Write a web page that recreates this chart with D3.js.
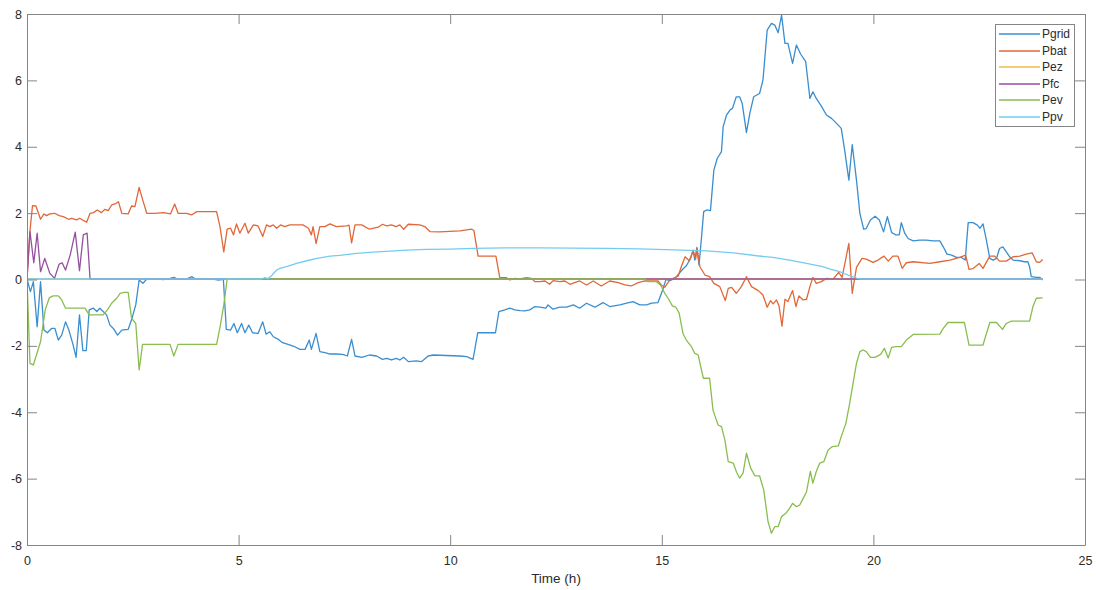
<!DOCTYPE html>
<html>
<head>
<meta charset="utf-8">
<script src="https://cdn.jsdelivr.net/npm/d3@7"></script>
<style>
  html, body { margin: 0; padding: 0; background: #fff; }
  svg { display: block; font-family: Arial, "Liberation Sans", Helvetica, sans-serif; }
</style>
</head>
<body>
<svg id="chart" width="1096" height="590"></svg>
<script>
// Power flows over one day, [hour, kW]
const pgrid = [[0,0],[0.08,-0.38],[0.15,-0.08],[0.24,-1.44],[0.32,-0.08],[0.4,-1.54],[0.48,-1.62],[0.58,-1.49],[0.66,-1.49],[0.74,-1.84],[0.82,-1.69],[0.91,-1.29],[0.99,-1.54],[1.08,-1.94],[1.16,-2.36],[1.24,-1.08],[1.32,-2.16],[1.4,-2.16],[1.47,-0.93],[1.57,-0.88],[1.65,-0.98],[1.72,-0.88],[1.8,-0.98],[1.88,-1.08],[1.96,-1.39],[2.04,-1.49],[2.14,-1.69],[2.24,-1.54],[2.39,-1.52],[2.47,-1.23],[2.57,-0.78],[2.65,-0.03],[2.74,-0.13],[2.83,0],[3.0,0.01],[3.22,-0.02],[3.38,0.02],[3.47,0.05],[3.57,-0.01],[3.75,-0.01],[3.9,0.07],[3.98,0],[4.4,0],[4.52,-0.03],[4.64,-0.01],[4.71,-1.52],[4.81,-1.54],[4.89,-1.34],[4.97,-1.62],[5.07,-1.34],[5.15,-1.62],[5.24,-1.39],[5.33,-1.62],[5.46,-1.64],[5.57,-1.29],[5.65,-1.66],[5.74,-1.59],[5.82,-1.74],[5.94,-1.82],[6.04,-1.92],[6.15,-1.96],[6.29,-2.02],[6.45,-2.12],[6.57,-2.12],[6.67,-1.84],[6.72,-2.12],[6.83,-1.64],[6.92,-2.19],[7.04,-2.22],[7.16,-2.26],[7.31,-2.26],[7.46,-2.27],[7.57,-2.32],[7.67,-1.82],[7.75,-2.32],[7.91,-2.36],[8.09,-2.29],[8.26,-2.32],[8.4,-2.42],[8.5,-2.39],[8.61,-2.44],[8.73,-2.39],[8.81,-2.44],[8.9,-2.36],[9.01,-2.49],[9.2,-2.47],[9.32,-2.49],[9.48,-2.32],[9.6,-2.29],[10.23,-2.32],[10.39,-2.34],[10.54,-2.42],[10.65,-1.62],[11.07,-1.62],[11.15,-0.98],[11.29,-0.93],[11.41,-0.88],[11.53,-0.93],[11.65,-0.95],[11.76,-0.96],[11.88,-0.93],[12.0,-0.83],[12.12,-0.85],[12.26,-0.88],[12.31,-0.78],[12.43,-0.91],[12.59,-0.85],[12.75,-0.85],[12.91,-0.78],[13.06,-0.88],[13.22,-0.73],[13.42,-0.85],[13.61,-0.71],[13.77,-0.83],[14.01,-0.78],[14.17,-0.73],[14.32,-0.68],[14.48,-0.78],[14.64,-0.78],[14.76,-0.73],[14.91,-0.71],[15.02,-0.33],[15.1,-0.01],[15.19,-0.05],[15.31,0.02],[15.41,0.17],[15.5,0.3],[15.58,0.4],[15.68,0.62],[15.74,0.87],[15.78,0.57],[15.83,0.95],[15.88,0.42],[15.94,1.28],[15.99,2.03],[16.06,2.08],[16.15,2.06],[16.23,3.28],[16.31,3.63],[16.41,3.84],[16.45,4.59],[16.53,4.94],[16.61,5.09],[16.67,5.14],[16.76,5.49],[16.84,5.49],[16.9,5.29],[17.0,4.41],[17.08,4.99],[17.17,5.49],[17.31,5.59],[17.39,5.99],[17.49,7.5],[17.59,7.7],[17.67,7.65],[17.75,7.42],[17.83,7.95],[17.91,7.1],[17.98,7.1],[18.09,6.5],[18.18,7.05],[18.28,6.78],[18.4,6.55],[18.5,5.44],[18.57,5.64],[18.65,5.44],[18.77,5.21],[18.89,4.94],[19.01,4.84],[19.13,4.69],[19.24,4.54],[19.32,3.89],[19.42,2.98],[19.5,4.05],[19.6,2.98],[19.68,1.98],[19.77,1.5],[19.83,1.52],[19.93,1.78],[20.04,1.89],[20.14,1.78],[20.24,1.42],[20.33,1.88],[20.43,1.4],[20.53,1.33],[20.61,1.33],[20.66,1.7],[20.74,1.38],[20.82,1.22],[20.94,1.15],[21.09,1.17],[21.25,1.17],[21.41,1.15],[21.57,1.15],[21.65,0.97],[21.74,0.75],[21.85,0.72],[21.96,0.65],[22.08,0.65],[22.17,0.57],[22.24,1.7],[22.35,1.7],[22.45,1.63],[22.52,1.53],[22.59,1.66],[22.67,1.17],[22.75,0.62],[22.83,0.57],[22.91,0.62],[22.98,0.92],[23.06,0.97],[23.14,0.82],[23.22,0.67],[23.3,0.57],[23.46,0.55],[23.57,0.52],[23.65,0.52],[23.69,0.37],[23.73,0.07],[23.85,0.05],[23.93,0.05],[24.0,-0.03]];

const pbat = [[0,0],[0.07,1.45],[0.13,2.21],[0.21,2.2],[0.32,1.8],[0.4,1.96],[0.46,1.91],[0.54,1.96],[0.65,1.98],[0.76,1.91],[0.86,1.88],[0.98,1.8],[1.06,1.83],[1.17,1.78],[1.25,1.83],[1.31,1.78],[1.41,1.71],[1.49,1.98],[1.57,2.0],[1.66,2.08],[1.76,2.0],[1.84,2.1],[1.92,2.06],[2.0,2.23],[2.08,2.26],[2.16,2.33],[2.24,1.98],[2.39,1.96],[2.47,2.2],[2.55,2.18],[2.65,2.76],[2.73,2.4],[2.83,1.98],[3.02,1.98],[3.22,2.0],[3.39,1.96],[3.49,2.26],[3.57,1.98],[3.77,1.98],[3.89,1.93],[4.01,2.03],[4.48,2.03],[4.56,1.58],[4.65,0.82],[4.73,1.5],[4.81,1.53],[4.88,1.33],[4.95,1.66],[5.03,1.38],[5.15,1.68],[5.23,1.38],[5.35,1.63],[5.46,1.6],[5.57,1.28],[5.66,1.63],[5.74,1.58],[5.82,1.63],[5.9,1.53],[5.99,1.63],[6.09,1.58],[6.21,1.63],[6.52,1.63],[6.65,1.53],[6.72,1.33],[6.76,1.58],[6.83,1.07],[6.92,1.58],[7.04,1.58],[7.16,1.66],[7.31,1.58],[7.55,1.6],[7.61,1.62],[7.67,1.09],[7.75,1.63],[7.91,1.63],[8.09,1.5],[8.3,1.56],[8.4,1.65],[8.5,1.6],[8.61,1.63],[8.72,1.58],[8.81,1.63],[8.9,1.5],[9.01,1.65],[9.28,1.63],[9.4,1.58],[9.52,1.43],[9.75,1.42],[10.23,1.45],[10.39,1.48],[10.51,1.5],[10.56,1.46],[10.66,0.69],[11.08,0.69],[11.17,0.05],[11.33,0.04],[11.41,-0.03],[11.53,0.02],[11.65,0],[11.8,0.04],[11.92,0.02],[12.0,-0.08],[12.12,-0.08],[12.24,-0.06],[12.35,-0.16],[12.43,-0.05],[12.59,-0.08],[12.71,-0.06],[12.83,-0.16],[12.94,-0.11],[13.06,-0.06],[13.22,-0.18],[13.38,-0.06],[13.57,-0.21],[13.77,-0.06],[13.97,-0.11],[14.13,-0.18],[14.28,-0.21],[14.44,-0.11],[14.6,-0.06],[14.79,-0.06],[14.91,-0.06],[14.99,-0.18],[15.07,-0.25],[15.19,-0.03],[15.27,0.02],[15.39,0.09],[15.46,0.37],[15.55,0.67],[15.65,0.55],[15.74,0.85],[15.8,0.6],[15.83,0.92],[15.9,0.37],[16.02,0.12],[16.13,0.07],[16.23,-0.13],[16.37,-0.23],[16.5,-0.65],[16.57,-0.28],[16.65,-0.25],[16.76,-0.43],[16.88,-0.23],[17.0,0.07],[17.12,-0.23],[17.28,-0.35],[17.39,-0.48],[17.49,-0.85],[17.57,-0.65],[17.63,-0.75],[17.71,-0.63],[17.77,-0.81],[17.84,-1.42],[17.91,-0.61],[17.98,-0.68],[18.09,-0.35],[18.17,-0.83],[18.24,-0.51],[18.34,-0.63],[18.42,-0.61],[18.5,-0.23],[18.57,0.05],[18.65,-0.13],[18.77,-0.08],[18.89,0.02],[19.05,0],[19.18,0.2],[19.26,0.05],[19.42,1.07],[19.5,-0.43],[19.6,0.35],[19.73,0.62],[19.83,0.6],[19.99,0.5],[20.11,0.57],[20.25,0.69],[20.35,0.54],[20.46,0.69],[20.58,0.69],[20.68,0.32],[20.78,0.49],[20.94,0.52],[21.33,0.47],[21.57,0.52],[21.81,0.57],[22.04,0.65],[22.18,0.72],[22.26,0.29],[22.35,0.31],[22.5,0.47],[22.59,0.32],[22.75,0.69],[22.87,0.69],[22.98,0.54],[23.14,0.54],[23.3,0.67],[23.46,0.69],[23.61,0.75],[23.75,0.79],[23.85,0.52],[23.93,0.5],[24.0,0.59]];

const pez = [[0,0],[24,0]];

const pfc = [[0,0],[0.07,1.43],[0.16,0.49],[0.24,1.38],[0.32,0.22],[0.42,0.62],[0.54,0.17],[0.65,0.02],[0.76,0.45],[0.83,0.49],[0.91,0.27],[1.02,0.72],[1.14,1.41],[1.24,0.25],[1.33,1.33],[1.42,1.38],[1.49,0],[24,0]];

const pev = [[0,0],[0.07,-2.54],[0.15,-2.59],[0.32,-1.89],[0.43,-0.93],[0.53,-0.56],[0.62,-0.51],[0.74,-0.51],[0.82,-0.63],[0.91,-0.88],[1.37,-0.88],[1.47,-1.08],[1.8,-1.08],[1.9,-0.93],[2.0,-0.73],[2.12,-0.58],[2.2,-0.43],[2.29,-0.4],[2.39,-0.4],[2.47,-1.18],[2.57,-1.34],[2.65,-2.74],[2.73,-1.97],[3.38,-1.97],[3.47,-2.32],[3.57,-1.97],[4.48,-1.97],[4.57,-1.39],[4.65,-0.78],[4.73,0],[14.6,0],[14.68,-0.08],[14.87,-0.08],[14.97,-0.18],[15.07,-0.43],[15.15,-0.58],[15.25,-0.81],[15.33,-0.85],[15.41,-1.03],[15.5,-1.64],[15.58,-1.84],[15.7,-2.04],[15.78,-2.24],[15.86,-2.29],[15.98,-2.99],[16.13,-2.99],[16.21,-3.95],[16.33,-4.4],[16.41,-4.45],[16.49,-4.85],[16.57,-5.5],[16.69,-5.55],[16.77,-5.83],[16.84,-6.0],[16.92,-5.85],[17.0,-5.25],[17.1,-5.7],[17.2,-5.93],[17.31,-5.93],[17.41,-6.36],[17.51,-7.31],[17.59,-7.66],[17.67,-7.46],[17.75,-7.46],[17.83,-7.16],[17.93,-7.06],[18.02,-6.91],[18.09,-6.76],[18.18,-6.86],[18.26,-6.81],[18.34,-6.61],[18.42,-6.41],[18.51,-5.8],[18.57,-6.15],[18.65,-5.8],[18.73,-5.55],[18.83,-5.5],[18.93,-5.15],[19.03,-5.05],[19.17,-5.03],[19.24,-4.75],[19.35,-4.35],[19.44,-3.74],[19.52,-3.14],[19.6,-2.54],[19.68,-2.19],[19.76,-2.14],[19.83,-2.19],[19.93,-2.36],[20.04,-2.36],[20.17,-2.27],[20.26,-2.09],[20.35,-2.38],[20.43,-2.06],[20.53,-2.04],[20.66,-2.04],[20.78,-1.84],[20.94,-1.67],[21.57,-1.66],[21.65,-1.49],[21.76,-1.31],[22.15,-1.31],[22.26,-1.99],[22.59,-1.99],[22.75,-1.31],[22.91,-1.31],[23.05,-1.52],[23.14,-1.34],[23.26,-1.27],[23.69,-1.27],[23.77,-0.83],[23.85,-0.58],[24.0,-0.57]];

const ppv = [[0,0],[5.54,0],[5.62,0.04],[5.69,0.01],[5.77,0.09],[5.9,0.27],[5.98,0.32],[6.17,0.39],[6.37,0.47],[6.61,0.55],[6.85,0.62],[7.16,0.69],[7.39,0.71],[7.79,0.77],[8.18,0.81],[8.57,0.84],[8.97,0.87],[9.44,0.89],[10.0,0.9],[10.54,0.92],[11.33,0.94],[12.12,0.94],[12.91,0.93],[13.69,0.92],[14.48,0.91],[15.27,0.88],[16.06,0.85],[16.69,0.79],[17.24,0.7],[17.63,0.65],[18.02,0.57],[18.42,0.47],[18.8,0.37],[19.0,0.29],[19.2,0.22],[19.4,0.12],[19.6,0.03],[19.68,0],[24,0]];

const seriesNames = ["Pgrid", "Pbat", "Pez", "Pfc", "Pev", "Ppv"];
const seriesData = [pgrid, pbat, pez, pfc, pev, ppv];
const seriesColors = ["#3a8ed0", "#e06838", "#efbc48", "#94509f", "#8abd50", "#74cbf0"];

const xTicks = [0, 5, 10, 15, 20, 25];
const yTicks = [-8, -6, -4, -2, 0, 2, 4, 6, 8];
const xLabel = "Time (h)";

(function draw() {
  const svg = d3.select("#chart");
  const mLeft = 27, mRight = 1085, mTop = 14, mBottom = 545;
  const tickLen = 10;
  const axisColor = "#858585";
  const textColor = "#2b2b2b";
  const lineWidth = 1.3;
  const tickText = d => String(d);

  const x = d3.scaleLinear().domain([0, 25]).range([mLeft, mRight]);
  const y = d3.scaleLinear().domain([-8, 8]).range([mBottom, mTop]);

  svg.append("rect").attr("x", 0).attr("y", 0).attr("width", 1096).attr("height", 590).attr("fill", "#fff");

  // clip region for the plotted lines
  svg.append("clipPath").attr("id", "plot-clip")
    .append("rect").attr("x", mLeft).attr("y", mTop).attr("width", mRight - mLeft).attr("height", mBottom - mTop);

  const line = d3.line().x(d => x(d[0])).y(d => y(d[1]));

  // traces are nudged half a pixel so thin strokes render soft, as in the exported figure
  const plot = svg.append("g").attr("clip-path", "url(#plot-clip)")
    .append("g").attr("transform", "translate(0,-0.5)");
  seriesData.forEach((data, i) => {
    plot.append("path")
      .datum(data)
      .attr("d", line)
      .attr("fill", "none")
      .attr("stroke", seriesColors[i])
      .attr("stroke-width", lineWidth)
      .attr("stroke-linejoin", "round");
  });

  // axes: ticks point inward on all four sides
  function styleAxis(g) {
    g.selectAll("path.domain").attr("stroke", axisColor);
    g.selectAll(".tick line").attr("stroke", axisColor);
    g.selectAll(".tick text").attr("fill", textColor).attr("font-size", 12.5)
      .attr("font-family", "Arial, 'Liberation Sans', Helvetica, sans-serif");
  }

  svg.append("g").attr("transform", `translate(0,${mBottom})`)
    .call(d3.axisBottom(x).tickValues(xTicks).tickSizeInner(-tickLen).tickSizeOuter(0).tickPadding(11).tickFormat(tickText))
    .call(styleAxis);

  svg.append("g").attr("transform", `translate(0,${mTop})`)
    .call(d3.axisTop(x).tickValues(xTicks).tickSizeInner(-tickLen).tickSizeOuter(0).tickFormat(""))
    .call(styleAxis);

  svg.append("g").attr("transform", `translate(${mLeft},0)`)
    .call(d3.axisLeft(y).tickValues(yTicks).tickSizeInner(-tickLen).tickSizeOuter(0).tickPadding(5).tickFormat(tickText))
    .call(styleAxis);

  svg.append("g").attr("transform", `translate(${mRight},0)`)
    .call(d3.axisRight(y).tickValues(yTicks).tickSizeInner(-tickLen).tickSizeOuter(0).tickFormat(""))
    .call(styleAxis);

  // x axis title
  svg.append("text")
    .attr("x", (mLeft + mRight) / 2)
    .attr("y", 583)
    .attr("text-anchor", "middle")
    .attr("font-size", 13.5)
    .attr("fill", textColor)
    .text(xLabel);

  // legend
  const lg = svg.append("g").attr("transform", "translate(995,24)");
  lg.append("rect").attr("x", 0.5).attr("y", 0.5).attr("width", 79).attr("height", 102)
    .attr("fill", "#fff").attr("stroke", axisColor).attr("stroke-width", 1);
  seriesNames.forEach((name, i) => {
    const ry = Math.round(10 + i * 16.6);
    lg.append("line").attr("x1", 4).attr("x2", 45).attr("y1", ry).attr("y2", ry)
      .attr("stroke", seriesColors[i]).attr("stroke-width", lineWidth);
    lg.append("text").attr("x", 47).attr("y", ry).attr("dy", "0.35em")
      .attr("font-size", 12).attr("fill", textColor).text(name);
  });
})();
</script>
</body>
</html>
